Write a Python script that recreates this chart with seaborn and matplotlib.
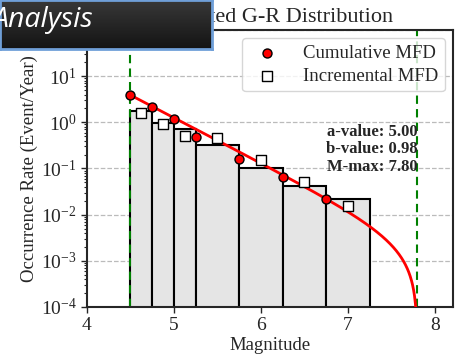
import numpy as np
import pandas as pd
import matplotlib
matplotlib.use("Agg")
import matplotlib.pyplot as plt
import seaborn as sns

# Gutenberg-Richter parameters
a_value = 5.00
b_value = 0.98
m_min = 4.5
m_max = 7.80

# Cumulative MFD (rate of events >= M)
cum_mag = [4.50, 4.75, 5.00, 5.25, 5.75, 6.25, 6.75]
cum_rate = [3.88, 2.18, 1.18, 0.49, 0.164, 0.064, 0.022]

# Incremental MFD (bin centres and rates)
inc_mag = [4.625, 4.875, 5.125, 5.50, 6.00, 6.50, 7.00]
inc_rate = [1.62, 0.91, 0.51, 0.46, 0.151, 0.050, 0.0151]

# Histogram bins of the binned catalogue
bin_edges = [4.50, 4.75, 5.00, 5.25, 5.75, 6.25, 6.75, 7.25]
bin_rate = [1.75, 0.97, 0.71, 0.32, 0.103, 0.0415, 0.022]

x_ticks = [4, 5, 6, 7, 8]

sns.set_style("ticks")
plt.rcParams["font.family"] = ["Liberation Serif", "DejaVu Serif"]
plt.rcParams["mathtext.fontset"] = "stix"
plt.rcParams["axes.linewidth"] = 1.5

fig = plt.figure(figsize=(4.56, 3.54), dpi=100)
ax = fig.add_axes([87 / 456, 1 - 307 / 354, 366 / 456, 277 / 354])
ax.set_yscale("log")

# binned rates as outlined grey bars
left = np.array(bin_edges[:-1])
widths = np.diff(bin_edges)
ax.bar(left, bin_rate, width=widths, align="edge", color="#e5e5e5",
       edgecolor="black", linewidth=1.5, zorder=1)

# magnitude limits
for m in (m_min, m_max):
    ax.axvline(m, color="green", ls="--", lw=1.5, dashes=(4, 2.5), zorder=2)

# truncated G-R curve
mm = np.linspace(m_min, m_max - 1e-4, 600)
curve = 10 ** a_value * (10 ** (-b_value * mm) - 10 ** (-b_value * m_max))
sns.lineplot(x=mm, y=curve, color="red", lw=2, ax=ax, zorder=3, legend=False)

cum_df = pd.DataFrame({"Magnitude": cum_mag, "Rate": cum_rate})
inc_df = pd.DataFrame({"Magnitude": inc_mag, "Rate": inc_rate})
sns.scatterplot(data=cum_df, x="Magnitude", y="Rate", marker="o", color="red",
                edgecolor="black", linewidth=1, s=42, zorder=5, ax=ax,
                label="Cumulative MFD")
sns.scatterplot(data=inc_df, x="Magnitude", y="Rate", marker="s", color="white",
                edgecolor="black", linewidth=1, s=48, zorder=4, ax=ax,
                label="Incremental MFD")

ax.set_xlim(4, 8.21)
ax.set_ylim(1e-4, 1e2)
ax.set_xticks(x_ticks)
ax.set_xticklabels([str(t) for t in x_ticks])
ax.tick_params(axis="both", which="major", labelsize=14, direction="out",
               length=4, width=1)
ax.tick_params(axis="y", which="minor", length=2, width=0.8)
ax.yaxis.grid(True, which="major", ls="--", color="#bbbbbb", lw=0.9)
ax.set_axisbelow(True)

ax.set_xlabel("Magnitude", fontsize=13.5, labelpad=2)
ax.set_ylabel("Occurrence Rate (Event/Year)", fontsize=13.5, labelpad=2)
ax.set_title("Truncated G-R Distribution", fontsize=16, pad=6)

ax.legend(loc="upper right", fontsize=13.5, handletextpad=0.9,
          borderpad=0.35, labelspacing=0.3, borderaxespad=0.45)

ax.text(0.902, 0.66,
        f"a-value: {a_value:.2f}\nb-value: {b_value:.2f}\nM-max: {m_max:.2f}",
        transform=ax.transAxes, ha="right", va="top", fontsize=12,
        fontweight="bold", linespacing=1.1, zorder=6)

# section banner in the top-left corner
ban = fig.add_axes([0, 1 - 49 / 354, 212 / 456, 49 / 354])
grad = np.linspace(0, 1, 64).reshape(-1, 1)
ban.imshow(grad, aspect="auto", cmap=matplotlib.colors.LinearSegmentedColormap.from_list(
    "banner", ["#383838", "#141414"]), extent=[0, 1, 0, 1], origin="upper")
ban.set_xticks([])
ban.set_yticks([])
for s in ban.spines.values():
    s.set_color("#6f9fd8")
    s.set_linewidth(2)
fig.text(-0.016, 1 - 27 / 354, "Analysis", color="white", fontsize=20.5,
         fontstyle="italic", family=["Open Sans", "DejaVu Sans"], zorder=10)

fig.savefig("out.png", dpi=100)
